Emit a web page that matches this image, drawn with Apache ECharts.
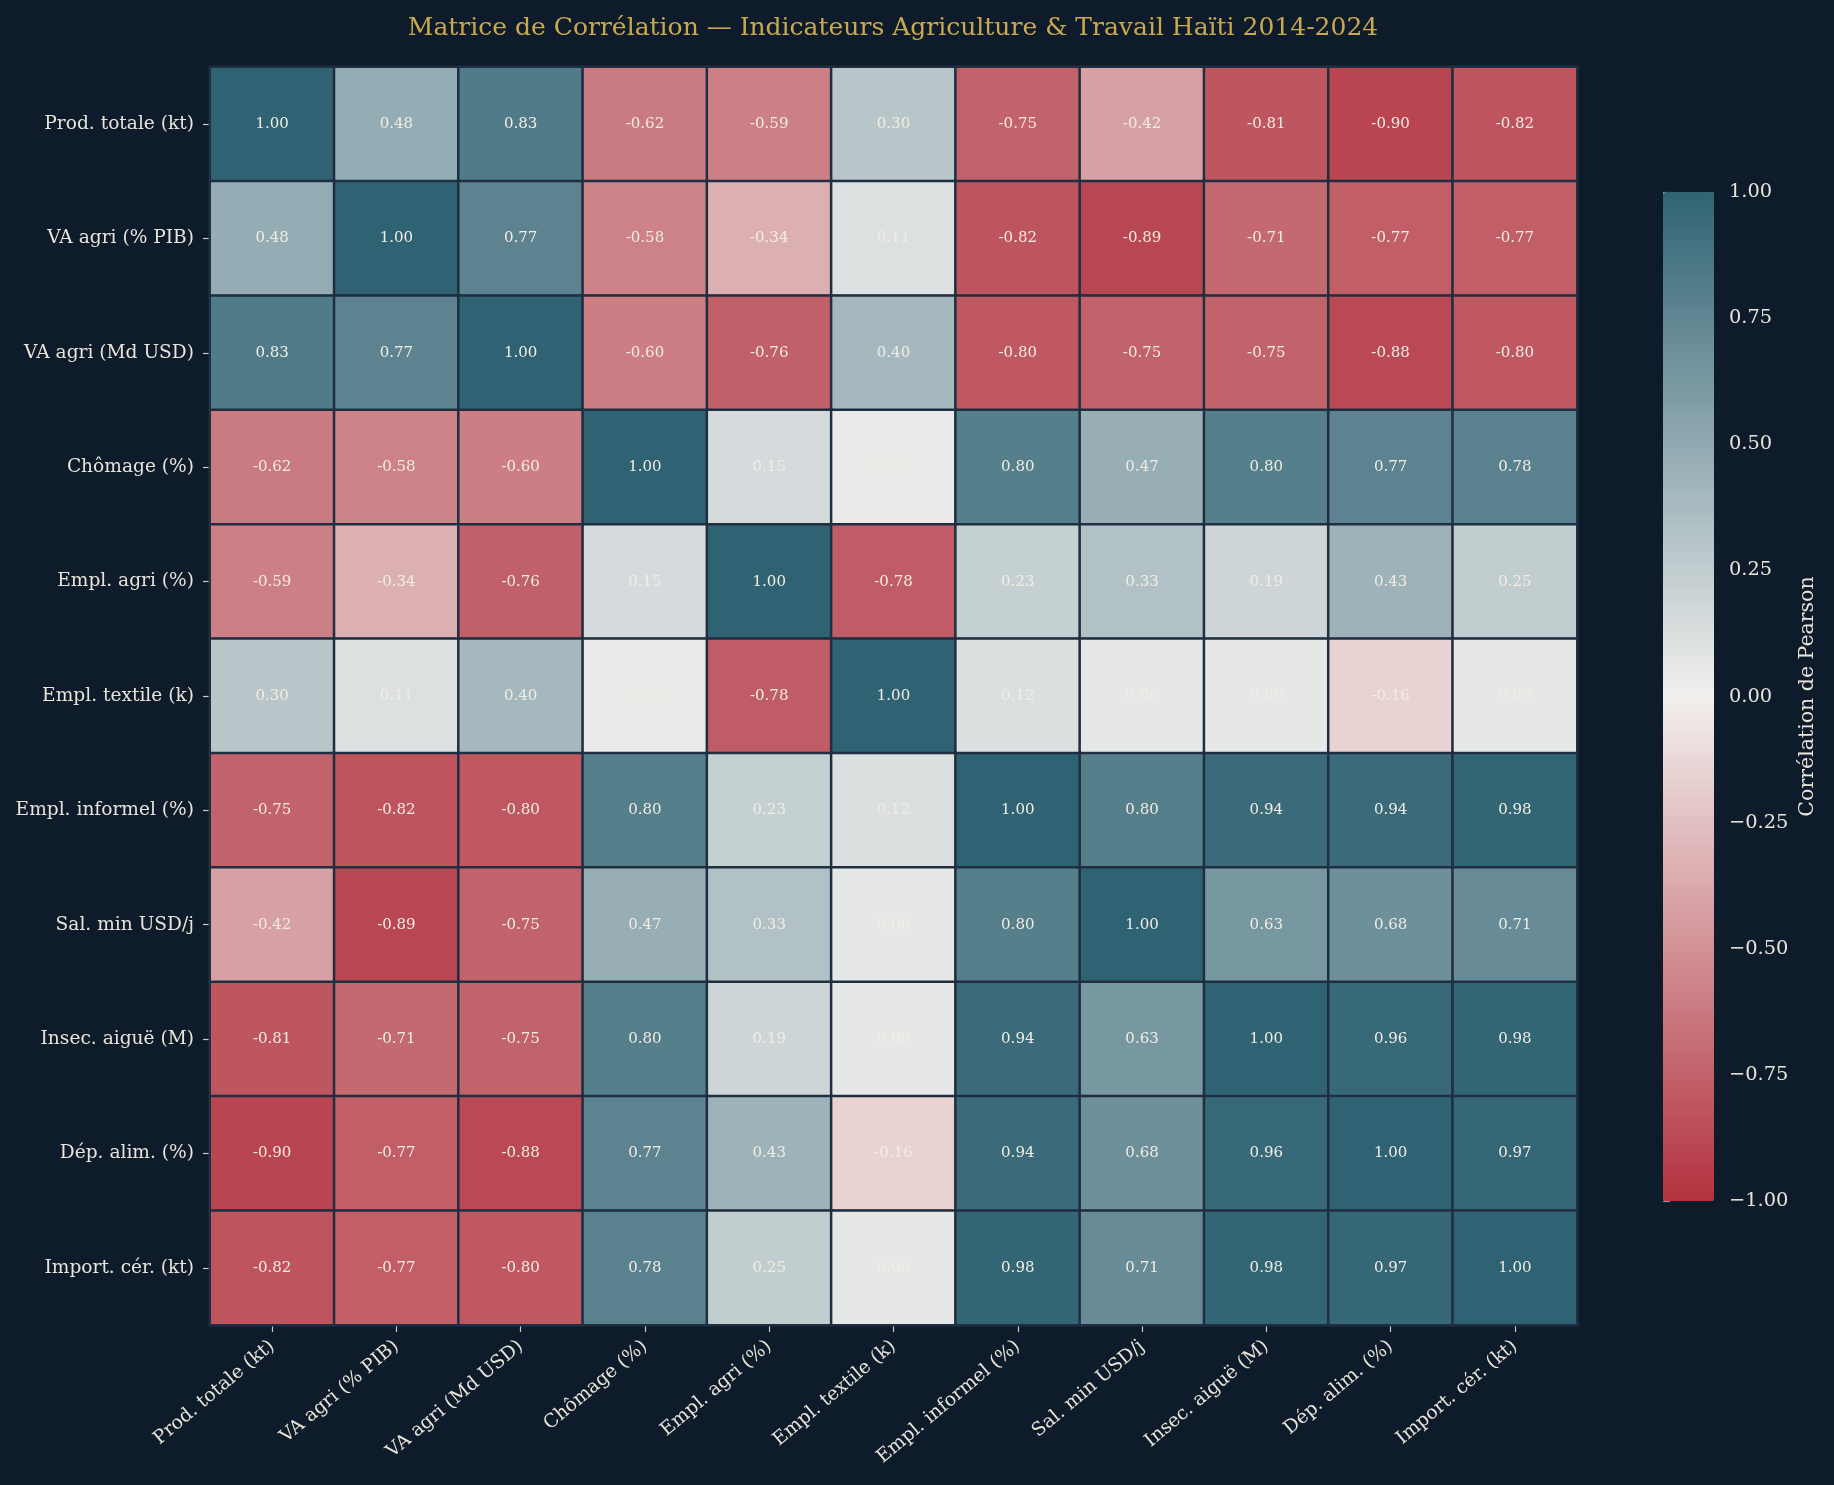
<!DOCTYPE html>
<html>
<head>
<meta charset="utf-8">
<script src="https://cdn.jsdelivr.net/npm/echarts@6/dist/echarts.min.js"></script>
<style>
html,body{margin:0;padding:0;background:#0e1b2a;}
#chart{width:1834px;height:1485px;}
</style>
</head>
<body>
<div id="chart"></div>
<script>
const titleText = 'Matrice de Corrélation — Indicateurs Agriculture & Travail Haïti 2014-2024';
const categories = ['Prod. totale (kt)','VA agri (% PIB)','VA agri (Md USD)','Chômage (%)','Empl. agri (%)','Empl. textile (k)','Empl. informel (%)','Sal. min USD/j','Insec. aiguë (M)','Dép. alim. (%)','Import. cér. (kt)'];
const row0  = [ 1.00, 0.48, 0.83,-0.62,-0.59, 0.30,-0.75,-0.42,-0.81,-0.90,-0.82];
const row1  = [ 0.48, 1.00, 0.77,-0.58,-0.34, 0.11,-0.82,-0.89,-0.71,-0.77,-0.77];
const row2  = [ 0.83, 0.77, 1.00,-0.60,-0.76, 0.40,-0.80,-0.75,-0.75,-0.88,-0.80];
const row3  = [-0.62,-0.58,-0.60, 1.00, 0.15, 0.04, 0.80, 0.47, 0.80, 0.77, 0.78];
const row4  = [-0.59,-0.34,-0.76, 0.15, 1.00,-0.78, 0.23, 0.33, 0.19, 0.43, 0.25];
const row5  = [ 0.30, 0.11, 0.40, 0.04,-0.78, 1.00, 0.12, 0.06, 0.06,-0.16, 0.06];
const row6  = [-0.75,-0.82,-0.80, 0.80, 0.23, 0.12, 1.00, 0.80, 0.94, 0.94, 0.98];
const row7  = [-0.42,-0.89,-0.75, 0.47, 0.33, 0.06, 0.80, 1.00, 0.63, 0.68, 0.71];
const row8  = [-0.81,-0.71,-0.75, 0.80, 0.19, 0.06, 0.94, 0.63, 1.00, 0.96, 0.98];
const row9  = [-0.90,-0.77,-0.88, 0.77, 0.43,-0.16, 0.94, 0.68, 0.96, 1.00, 0.97];
const row10 = [-0.82,-0.77,-0.80, 0.78, 0.25, 0.06, 0.98, 0.71, 0.98, 0.97, 1.00];
const rows = [row0,row1,row2,row3,row4,row5,row6,row7,row8,row9,row10];
const colorbarMin = -1, colorbarMax = 1, colorbarStep = 0.25;
const colorbarLabel = 'Corrélation de Pearson';

const heatData = [];
rows.forEach((r, yi) => r.forEach((v, xi) => heatData.push([xi, yi, v])));

const FONT = 'DejaVu Serif';
const TXT = '#e8e4da';
const chart = echarts.init(document.getElementById('chart'), null, {renderer:'canvas'});
chart.setOption({
  backgroundColor: '#0e1b2a',
  animation: false,
  title: {
    text: titleText, left: 888, top: 11, textAlign: 'center',
    textStyle: {color: '#c9a94e', fontFamily: FONT, fontWeight: 'normal', fontSize: 25}
  },
  grid: [
    {left: 210, top: 67, width: 1367, height: 1258},
    {left: 1663, top: 192, width: 51, height: 1009}
  ],
  xAxis: [
    {type: 'category', data: categories, gridIndex: 0, position: 'bottom',
     axisLine: {show: false},
     axisTick: {show: true, alignWithLabel: true, length: 7, lineStyle: {color: '#c8ccd0', width: 1.2}},
     axisLabel: {interval: 0, rotate: 40, margin: 19, color: TXT, fontFamily: FONT, fontSize: 18.8},
     splitLine: {show: false}},
    {type: 'value', gridIndex: 1, show: false, min: 0, max: 1}
  ],
  yAxis: [
    {type: 'category', data: categories, gridIndex: 0, inverse: true,
     axisLine: {show: false},
     axisTick: {show: true, alignWithLabel: true, length: 7, lineStyle: {color: '#c8ccd0', width: 1.2}},
     axisLabel: {interval: 0, margin: 16, color: TXT, fontFamily: FONT, fontSize: 18.6},
     splitLine: {show: false}},
    {type: 'value', gridIndex: 1, position: 'right', min: colorbarMin, max: colorbarMax, interval: colorbarStep,
     axisLine: {show: false},
     axisTick: {show: true, length: 7, lineStyle: {color: '#8a96a4', width: 1.2}},
     axisLabel: {margin: 15, color: TXT, fontFamily: FONT, fontSize: 19.4,
       formatter: v => v.toFixed(2).replace('-', '\u2212')},
     splitLine: {show: false},
     name: colorbarLabel, nameLocation: 'middle', nameRotate: 90, nameGap: 83,
     nameTextStyle: {color: TXT, fontFamily: FONT, fontSize: 20.5}}
  ],
  visualMap: {
    type: 'continuous', min: colorbarMin, max: colorbarMax, seriesIndex: 0,
    calculable: false, hoverLink: false, padding: 0,
    left: 1663, top: 192, itemWidth: 51, itemHeight: 1009,
    inRange: {color: ['#b2323e', '#f2f0ee', '#2f6373']}
  },
  series: [{
    type: 'heatmap', xAxisIndex: 0, yAxisIndex: 0, data: heatData,
    itemStyle: {borderColor: '#1f2e40', borderWidth: 2.5},
    label: {show: true, formatter: p => p.value[2].toFixed(2), color: '#f2ede3', fontFamily: FONT, fontSize: 15},
    emphasis: {disabled: true}
  }]
});
</script>
</body>
</html>
